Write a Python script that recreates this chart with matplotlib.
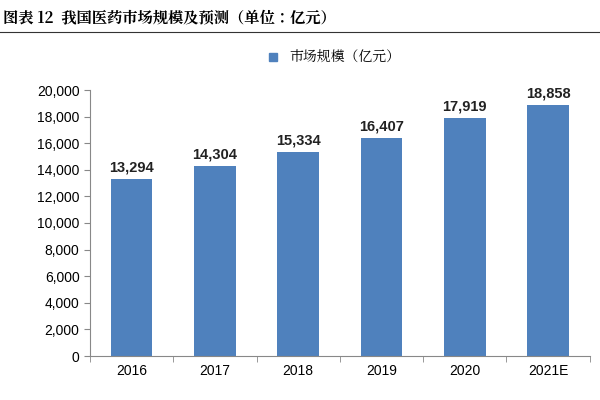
import matplotlib.pyplot as plt
from matplotlib import font_manager
from matplotlib.lines import Line2D

# find an installed CJK font file (name lookup can be unreliable)
cjk_path = None
for f in font_manager.findSystemFonts():
    if "CJK" in f and ("Regular" in f or "Bold" in f or f.endswith(".ttc")):
        cjk_path = f
        if "SC" in f or ".ttc" in f:
            break
if cjk_path:
    font_manager.fontManager.addfont(cjk_path)
    cjk_name = font_manager.FontProperties(fname=cjk_path).get_name()
else:
    cjk_name = "Noto Sans CJK SC"

plt.rcParams["font.family"] = ["Liberation Sans", cjk_name, "DejaVu Sans"]

years = ["2016", "2017", "2018", "2019", "2020", "2021E"]
market_size = [13294, 14304, 15334, 16407, 17919, 18858]
y_ticks = list(range(0, 20001, 2000))

BAR_COLOR = "#4F81BD"

fig = plt.figure(figsize=(6, 4), dpi=100)
ax = fig.add_axes([0.15, 0.11, 0.833, 0.665])

x = range(len(years))
ax.bar(x, market_size, width=0.5, color=BAR_COLOR)
for xi, v in zip(x, market_size):
    ax.text(xi, v + 350, f"{v:,}", ha="center", va="bottom",
            fontsize=10.5, fontweight="bold", color="#222222")

ax.set_xlim(-0.5, len(years) - 0.5)
ax.set_ylim(0, 20000)
ax.set_yticks(y_ticks)
ax.set_yticklabels([f"{t:,}" for t in y_ticks], fontsize=10)
ax.set_xticks(list(x))
ax.set_xticklabels(years, fontsize=10)
ax.set_xticks([i + 0.5 for i in range(-1, len(years))], minor=True)
ax.tick_params(axis="x", which="major", length=0, pad=6)
ax.tick_params(axis="x", which="minor", length=4, color="#888888")
ax.tick_params(axis="y", length=4, color="#888888")
for s in ["top", "right"]:
    ax.spines[s].set_visible(False)
ax.spines["left"].set_color("#888888")
ax.spines["bottom"].set_color("#888888")

handle = Line2D([], [], marker="s", linestyle="", color=BAR_COLOR, markersize=6)
fig.legend([handle], ["市场规模（亿元）"], loc="center", bbox_to_anchor=(0.55, 0.855),
           frameon=False, prop={"family": cjk_name, "size": 10}, handletextpad=0.2)

fig.text(0.005, 0.955, "图表 12  我国医药市场规模及预测（单位：亿元）",
         fontsize=11, fontweight="bold", family=cjk_name, va="center", ha="left")
fig.add_artist(Line2D([0, 1], [0.92, 0.92], color="#333333", lw=0.8))

fig.savefig("out.png", dpi=100)
